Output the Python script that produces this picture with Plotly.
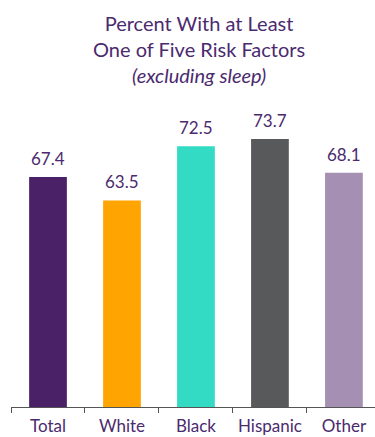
import plotly.graph_objects as go

categories = ["Total", "White", "Black", "Hispanic", "Other"]
values = [67.4, 63.5, 72.5, 73.7, 68.1]
bar_colors = ["#4a2166", "#ffa400", "#33dbc4", "#58595b", "#a590b3"]
value_labels = ["67.4", "63.5", "72.5", "73.7", "68.1"]

PURPLE = "#4b2a6e"
FONT = "Lato"

fig = go.Figure()
fig.add_trace(go.Bar(
    x=categories, y=values,
    marker=dict(color=bar_colors, line=dict(width=0)),
    width=0.51,
    hoverinfo="skip",
))

for c, v, t in zip(categories, values, value_labels):
    fig.add_annotation(x=c, y=v, text=t, showarrow=False, yanchor="bottom",
                       yshift=6, font=dict(family=FONT, size=17, color=PURPLE))

fig.add_annotation(
    xref="paper", yref="paper", x=(199 - 11) / 364, y=1.0, yshift=92,
    xanchor="center", yanchor="top", showarrow=False,
    text="Percent With at Least<br>One of Five Risk Factors<br><i>(excluding sleep)</i>",
    font=dict(family=FONT, size=20, color=PURPLE),
)

fig.update_layout(
    width=375, height=437,
    margin=dict(l=11, r=0, t=101, b=30),
    paper_bgcolor="white", plot_bgcolor="white",
    showlegend=False,
    xaxis=dict(type="category", range=[-0.5, 4.42], tickson="boundaries",
               ticks="outside", ticklen=5, tickcolor="#555555",
               showline=True, linecolor="#555555", linewidth=1,
               showgrid=False, zeroline=False, ticklabelstandoff=4,
               tickfont=dict(family=FONT, size=17, color=PURPLE)),
    yaxis=dict(range=[29.2, 80], visible=False),
)

fig.write_html("out.html")
